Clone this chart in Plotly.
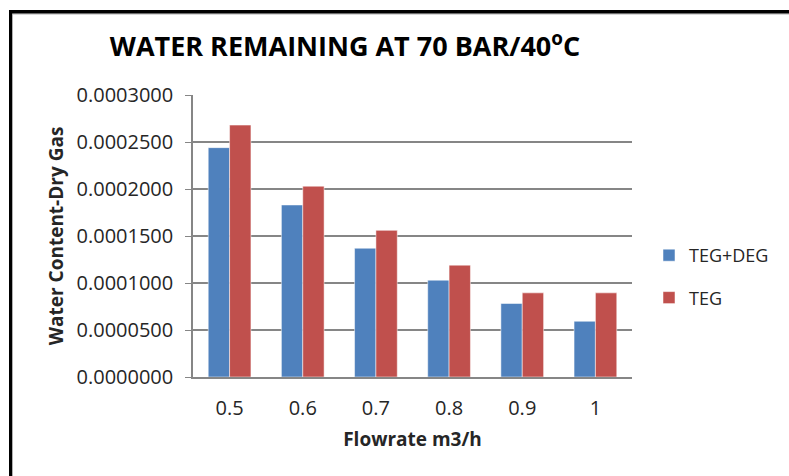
import plotly.graph_objects as go

categories = ["0.5", "0.6", "0.7", "0.8", "0.9", "1"]
teg_deg = [0.000244, 0.000183, 0.000137, 0.000103, 0.0000782, 0.0000593]
teg = [0.000268, 0.000203, 0.000156, 0.000119, 0.0000895, 0.0000895]
y_ticks = [0.0, 0.00005, 0.0001, 0.00015, 0.0002, 0.00025, 0.0003]

W, H = 789, 476
L, R, T, B = 193, 157, 95, 99
pw, ph = W - L - R, H - T - B

FONT = "Open Sans"
TXT = "#262626"

fig = go.Figure()
fig.add_trace(go.Bar(x=categories, y=teg_deg, name="TEG+DEG", legendgroup="a",
                     marker=dict(color="#4F81BD", line=dict(color="rgba(255,255,255,0.5)", width=1))))
fig.add_trace(go.Bar(x=categories, y=teg, name="TEG", legendgroup="b",
                     marker=dict(color="#C0504D", line=dict(color="rgba(255,255,255,0.5)", width=1))))

def px_x(p):
    return (p - L) / pw

def px_y(p):
    return (H - B - p) / ph

fig.update_layout(
    width=W, height=H,
    margin=dict(l=L, r=R, t=T, b=B),
    paper_bgcolor="white", plot_bgcolor="white",
    barmode="group", bargap=0.416, bargroupgap=0,
    font=dict(family=FONT, color=TXT),
    title=dict(text="WATER REMAINING AT 70 BAR/40<sup>o</sup>C",
               font=dict(family=FONT, size=27, color="black", weight="bold"),
               x=345 / W, xanchor="center", y=1 - 47 / H, yanchor="middle"),
    legend=dict(x=px_x(649), y=px_y(237), xanchor="left", yanchor="top",
                traceorder="grouped", tracegroupgap=16,
                font=dict(family=FONT, size=18, color=TXT),
                itemwidth=30, bgcolor="rgba(0,0,0,0)"),
    xaxis=dict(type="category", showline=True, linecolor="#868686", linewidth=1.5,
               ticks="", ticklabelstandoff=12,
               tickfont=dict(family=FONT, size=20, color=TXT),
               title=dict(text="Flowrate m3/h", standoff=13,
                          font=dict(family=FONT, size=19, color=TXT, weight="bold"))),
    yaxis=dict(range=[0, 0.0003], tickvals=y_ticks, tickformat=".7f",
               showline=True, linecolor="#868686", linewidth=1.5,
               ticks="outside", ticklen=6, tickcolor="#868686",
               showgrid=True, gridcolor="#868686", gridwidth=1.5,
               ticklabelstandoff=8,
               tickfont=dict(family=FONT, size=20, color=TXT),
               zeroline=False,
               title=dict(text="Water Content-Dry Gas", standoff=8,
                          font=dict(family=FONT, size=19, color=TXT, weight="bold"))),
    showlegend=True,
)

# outer frame (top and left edges visible), drawn as filled bands
fig.add_shape(type="rect", xref="paper", yref="paper",
              x0=px_x(9), x1=px_x(789), y0=px_y(13.5), y1=px_y(14.5),
              line=dict(width=0), fillcolor="#b0b0b0")
fig.add_shape(type="rect", xref="paper", yref="paper",
              x0=px_x(12), x1=px_x(13), y0=px_y(13), y1=px_y(476),
              line=dict(width=0), fillcolor="#b0b0b0")
fig.add_shape(type="rect", xref="paper", yref="paper",
              x0=px_x(9), x1=px_x(789), y0=px_y(10), y1=px_y(13.5),
              line=dict(width=0), fillcolor="black")
fig.add_shape(type="rect", xref="paper", yref="paper",
              x0=px_x(9), x1=px_x(12), y0=px_y(10), y1=px_y(476),
              line=dict(width=0), fillcolor="black")

fig.write_html("out.html")
